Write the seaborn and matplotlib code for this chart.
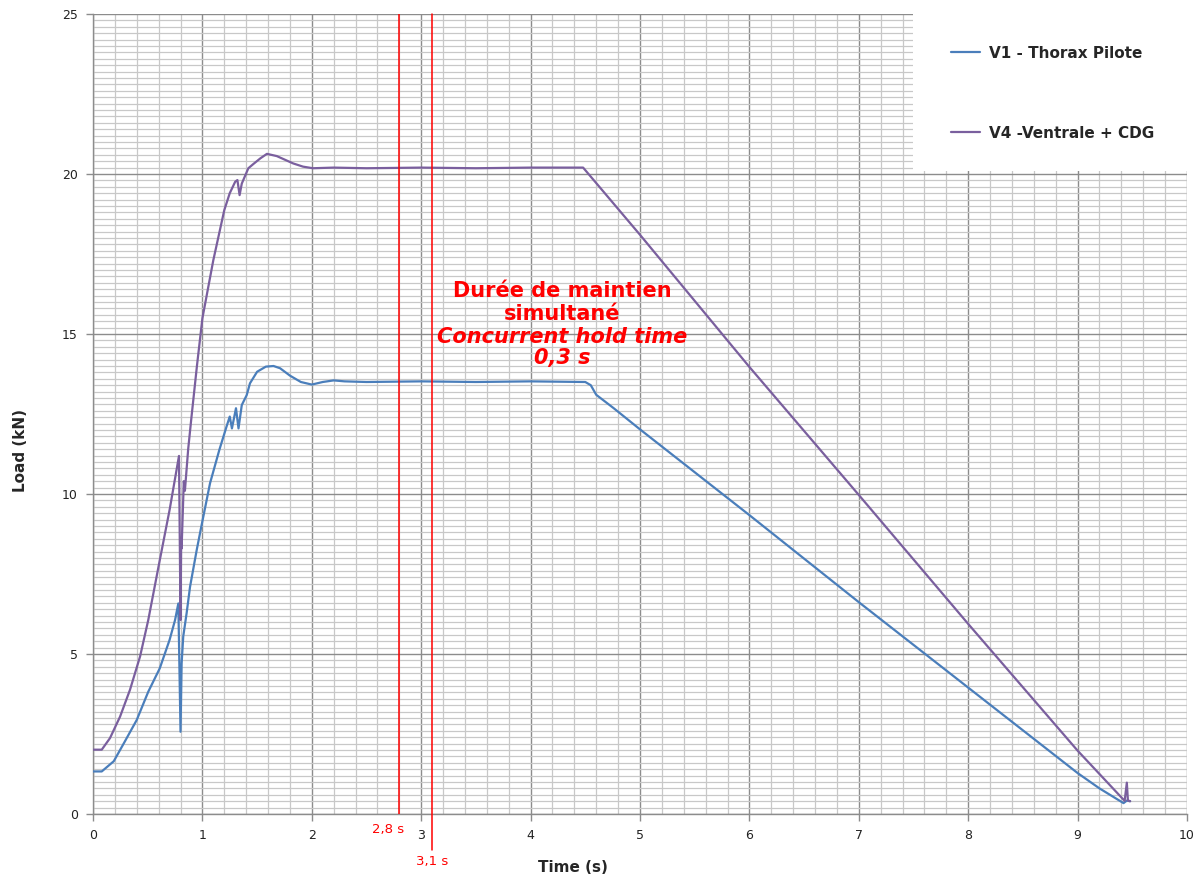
import pandas as pd
import matplotlib
matplotlib.use("Agg")
import matplotlib.pyplot as plt
from matplotlib.patches import Rectangle
from matplotlib.ticker import MultipleLocator
import seaborn as sns

# V1 - Thorax Pilote
t_v1 = [0.0, 0.08, 0.19, 0.29, 0.40, 0.505, 0.61, 0.70, 0.75, 0.78, 0.80, 0.81, 0.825,
        0.856, 0.887, 0.948, 0.99, 1.07, 1.155, 1.22, 1.25, 1.27, 1.307, 1.33, 1.36,
        1.405, 1.435, 1.50, 1.58, 1.65, 1.71, 1.8, 1.9, 2.0, 2.1, 2.2, 2.3, 2.5, 3.0,
        3.5, 4.0, 4.5, 4.55, 4.6, 4.76, 5.0, 6.0, 7.0, 8.0, 9.0, 9.2, 9.42, 9.45, 9.48]
load_v1 = [1.33, 1.33, 1.65, 2.26, 2.94, 3.82, 4.55, 5.44, 6.06, 6.58, 2.57, 4.7, 5.55,
           6.28, 7.1, 8.25, 8.98, 10.34, 11.38, 12.1, 12.42, 12.05, 12.68, 12.05, 12.78,
           13.09, 13.46, 13.82, 13.98, 14.0, 13.93, 13.7, 13.5, 13.42, 13.5, 13.55, 13.52, 13.5, 13.52,
           13.5, 13.52, 13.5, 13.4, 13.1, 12.68, 12.02, 9.34, 6.62, 3.95, 1.28, 0.8, 0.34, 0.42, 0.4]

# V4 - Ventrale + CDG
t_v4 = [0.0, 0.08, 0.155, 0.247, 0.338, 0.43, 0.505, 0.6, 0.7, 0.786, 0.80, 0.806, 0.81,
        0.83, 0.84, 0.87, 0.90, 0.95, 1.0, 1.10, 1.2, 1.25, 1.30, 1.32, 1.34, 1.36, 1.42,
        1.465, 1.53, 1.59, 1.68, 1.83, 1.92, 2.01, 2.2, 2.5, 3.0, 3.5, 4.0, 4.48, 5.0, 6.0,
        7.0, 8.0, 9.0, 9.43, 9.45, 9.46, 9.48]
load_v4 = [2.01, 2.01, 2.37, 3.04, 3.88, 4.92, 6.06, 7.75, 9.5, 11.19, 6.06, 8.6, 8.3,
           10.4, 10.1, 11.4, 12.4, 14.0, 15.49, 17.31, 18.87, 19.4, 19.76, 19.81, 19.34, 19.7, 20.18,
           20.31, 20.49, 20.63, 20.56, 20.33, 20.23, 20.18, 20.2, 20.18, 20.2, 20.18, 20.2, 20.2, 18.1, 13.97,
           9.97, 5.94, 1.98, 0.41, 0.98, 0.42, 0.4]

series_names = ["V1 - Thorax Pilote", "V4 -Ventrale + CDG"]
series_colors = ["#4a7ebb", "#7a5f9e"]

df = pd.concat([
    pd.DataFrame({"Time": t_v1, "Load": load_v1, "Series": series_names[0]}),
    pd.DataFrame({"Time": t_v4, "Load": load_v4, "Series": series_names[1]}),
], ignore_index=True)

sns.set_style("white")
plt.rcParams["font.family"] = ["DejaVu Sans"]

fig = plt.figure(figsize=(12.03, 8.81), dpi=100)
ax = fig.add_axes([93 / 1203, 1 - 814 / 881, 1094 / 1203, 800 / 881])

sns.lineplot(data=df, x="Time", y="Load", hue="Series", palette=series_colors,
             estimator=None, sort=False, linewidth=1.6, ax=ax, zorder=3)

ax.set_xlim(0, 10)
ax.set_ylim(0, 25)
ax.xaxis.set_major_locator(MultipleLocator(1))
ax.xaxis.set_minor_locator(MultipleLocator(0.2))
ax.yaxis.set_major_locator(MultipleLocator(5))
ax.yaxis.set_minor_locator(MultipleLocator(0.2))
ax.grid(True, which="minor", color="#c8c8c8", linewidth=0.9)
ax.grid(True, which="major", color="#8c8c8c", linewidth=1.0)
ax.set_axisbelow(True)
for s in ["top", "right"]:
    ax.spines[s].set_visible(False)
for s in ["left", "bottom"]:
    ax.spines[s].set_color("#8c8c8c")
    ax.spines[s].set_linewidth(1.0)
ax.tick_params(which="major", length=5, width=1, color="#8c8c8c", labelsize=9,
               labelcolor="#222222", pad=6, direction="out", left=True, bottom=True)
ax.tick_params(which="minor", length=0)

ax.set_xlabel("Time (s)", fontsize=11, fontweight="bold")
ax.set_ylabel("Load (kN)", fontsize=11, fontweight="bold")
ax.xaxis.set_label_coords(0.439, -0.057)
ax.yaxis.set_label_coords(-0.0594, 0.454)

# concurrent hold window
red = "#ff0000"
ax.axvline(2.8, color=red, linewidth=1.1, zorder=4)
ax.axvline(3.1, ymin=-0.045, ymax=1, color=red, linewidth=1.1, zorder=4, clip_on=False)
ax.text(2.70, -0.02, "2,8 s", color=red, fontsize=9.5, ha="center", va="center",
        transform=ax.get_xaxis_transform())
ax.text(3.10, -0.06, "3,1 s", color=red, fontsize=9.5, ha="center", va="center",
        transform=ax.get_xaxis_transform())

ann_x = 4.29
ann_size = 15
ax.text(ann_x, 16.16, "Durée de maintien", color=red, fontsize=ann_size, fontweight="bold",
        ha="center", va="baseline", zorder=5)
ax.text(ann_x, 15.44, "simultané", color=red, fontsize=ann_size, fontweight="bold",
        ha="center", va="baseline", zorder=5)
ax.text(ann_x, 14.72, "Concurrent hold time", color=red, fontsize=ann_size, fontweight="bold",
        fontstyle="italic", ha="center", va="baseline", zorder=5)
ax.text(ann_x, 14.06, "0,3 s", color=red, fontsize=ann_size, fontweight="bold",
        fontstyle="italic", ha="center", va="baseline", zorder=5)

# white legend area in the top right corner
fig.add_artist(Rectangle((913 / 1203, 1 - 171 / 881), 1 - 913 / 1203, 171 / 881,
                         transform=fig.transFigure, facecolor="white",
                         edgecolor="none", zorder=5))

handles, labels = ax.get_legend_handles_labels()
ax.get_legend().remove()
leg = fig.legend(handles, labels, loc="upper left",
                 bbox_to_anchor=(937 / 1203, 1 - 32 / 881),
                 frameon=False, handlelength=1.9, handletextpad=0.6,
                 labelspacing=4.25, prop={"weight": "bold", "size": 11})
leg.set_zorder(10)

fig.savefig("out.png", dpi=100)
